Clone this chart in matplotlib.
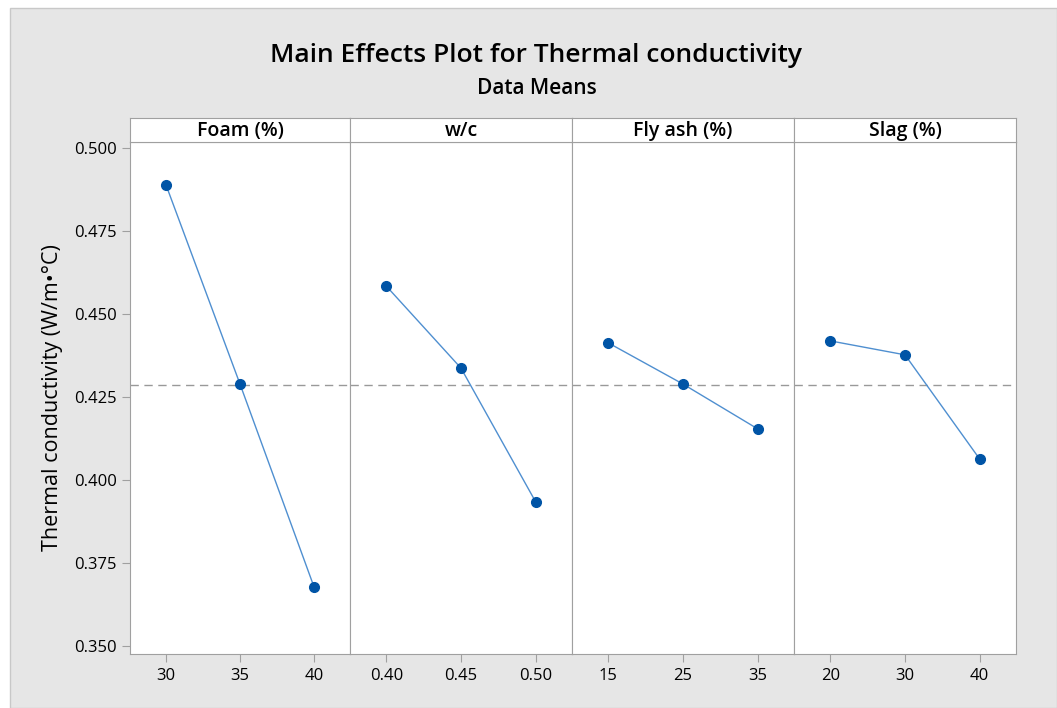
import numpy as np
import matplotlib.pyplot as plt
from matplotlib.patches import Rectangle

# factor levels and means
factors = ['Foam (%)', 'w/c', 'Fly ash (%)', 'Slag (%)']
levels = [['30', '35', '40'],
          ['0.40', '0.45', '0.50'],
          ['15', '25', '35'],
          ['20', '30', '40']]
foam = [0.4889, 0.4289, 0.3678]
wc = [0.4584, 0.4337, 0.3934]
flyash = [0.4413, 0.4289, 0.4154]
slag = [0.4419, 0.4377, 0.4063]
means = [foam, wc, flyash, slag]
grand_mean = 0.4286
yticks = [0.350, 0.375, 0.400, 0.425, 0.450, 0.475, 0.500]

plt.rcParams['font.family'] = ['Open Sans', 'DejaVu Sans']

W, H = 1057, 708
fig = plt.figure(figsize=(W / 100, H / 100), dpi=100)
fig.patch.set_facecolor('white')

# gray background panel
fig.patches.append(Rectangle((10 / W, 0), 1 - 10 / W, 1 - 8 / H, transform=fig.transFigure,
                             facecolor='#e6e6e6', edgecolor='#c8c8c8', linewidth=1, zorder=-10))

fig.text(536 / W, 1 - 55 / H, 'Main Effects Plot for Thermal conductivity',
         ha='center', va='center', fontsize=19, fontweight='semibold')
fig.text(537 / W, 1 - 88 / H, 'Data Means', ha='center', va='center',
         fontsize=15, fontweight='semibold')

edge = '#a0a0a0'
xs = [130, 350, 572, 794, 1016]
top, hdr_bot, bot = 118, 142, 654

for i in range(4):
    x0, x1 = xs[i], xs[i + 1]
    ax = fig.add_axes([x0 / W, 1 - bot / H, (x1 - x0) / W, (bot - hdr_bot) / H])
    ax.set_facecolor('white')
    x = np.arange(len(levels[i]))
    ax.axhline(grand_mean, color='#999999', linestyle=(0, (6, 4)), linewidth=1, zorder=1)
    ax.plot(x, means[i], color='#4f8fd0', linewidth=1, zorder=2)
    ax.plot(x, means[i], 'o', color='#0054a6', markersize=7, zorder=3)
    ax.set_xlim(-0.486, 2.486)
    ax.set_ylim(0.3476, 0.5018)
    ax.set_xticks(x)
    ax.set_xticklabels(levels[i])
    for s in ax.spines.values():
        s.set_color(edge)
    ax.tick_params(axis='x', colors=edge, labelcolor='black', labelsize=12, length=6, pad=4)
    if i == 0:
        ax.set_yticks(yticks)
        ax.set_yticklabels([f'{v:.3f}' for v in yticks])
        ax.tick_params(axis='y', colors=edge, labelcolor='black', labelsize=12, length=6)
        ax.set_ylabel('Thermal conductivity (W/m•°C)', fontsize=15.5, labelpad=8)
    else:
        ax.set_yticks([])

    hx = fig.add_axes([x0 / W, 1 - hdr_bot / H, (x1 - x0) / W, (hdr_bot - top) / H])
    hx.set_facecolor('white')
    hx.set_xticks([])
    hx.set_yticks([])
    for s in hx.spines.values():
        s.set_color(edge)
    hx.text(0.5, 0.45, factors[i], ha='center', va='center', fontsize=14,
            fontweight='semibold', transform=hx.transAxes)

fig.savefig('out.png', dpi=100)
